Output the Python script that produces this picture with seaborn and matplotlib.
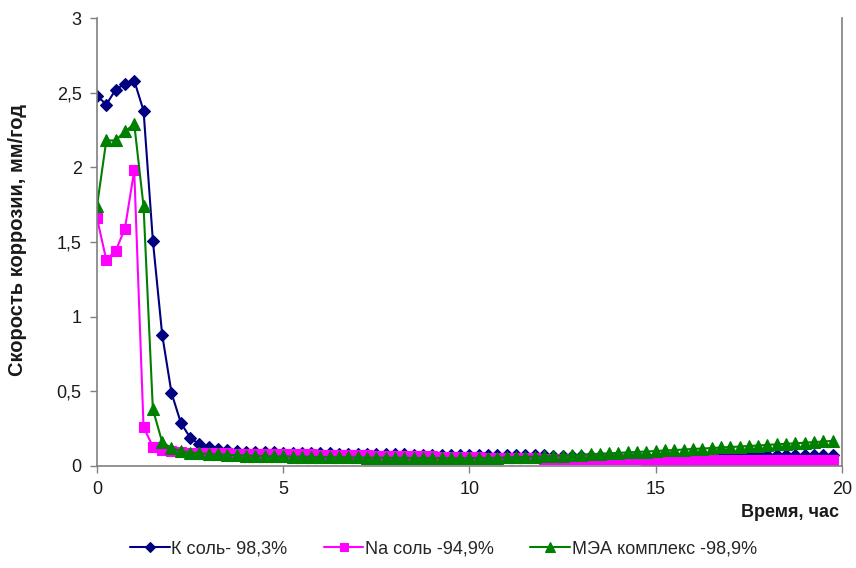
import numpy as np
import pandas as pd
import matplotlib
matplotlib.use("Agg")
import matplotlib.pyplot as plt
import seaborn as sns
from matplotlib.ticker import FuncFormatter, MultipleLocator

# Sampling grid: measurements every 15 minutes
time_h = np.arange(0, 20, 0.25)

k_salt = [2.48, 2.42, 2.52, 2.56, 2.58, 2.38, 1.51, 0.88, 0.49, 0.29,
          0.19, 0.145, 0.125, 0.112, 0.105, 0.100, 0.096, 0.094, 0.092, 0.091,
          0.090, 0.088, 0.087, 0.086, 0.085, 0.084, 0.083, 0.082, 0.081, 0.080,
          0.080, 0.079, 0.078, 0.077, 0.076, 0.076, 0.075, 0.074, 0.074, 0.073,
          0.073, 0.073, 0.072, 0.072, 0.072, 0.071, 0.071, 0.071, 0.071, 0.070,
          0.070, 0.070, 0.070, 0.070, 0.070, 0.070, 0.070, 0.070, 0.070, 0.070,
          0.070, 0.070, 0.071, 0.071, 0.071, 0.071, 0.071, 0.072, 0.072, 0.072,
          0.072, 0.072, 0.073, 0.073, 0.073, 0.073, 0.073, 0.074, 0.074, 0.074]

na_salt = [1.66, 1.38, 1.44, 1.59, 1.98, 0.26, 0.13, 0.11, 0.100, 0.095,
           0.090, 0.088, 0.086, 0.085, 0.084, 0.083, 0.082, 0.081, 0.080, 0.080,
           0.079, 0.078, 0.078, 0.077, 0.076, 0.075, 0.074, 0.073, 0.072, 0.071,
           0.070, 0.069, 0.068, 0.067, 0.066, 0.065, 0.064, 0.063, 0.062, 0.060,
           0.058, 0.057, 0.056, 0.055, 0.054, 0.053, 0.052, 0.051, 0.050, 0.050,
           0.049, 0.048, 0.047, 0.047, 0.046, 0.045, 0.045, 0.044, 0.044, 0.043,
           0.043, 0.042, 0.042, 0.042, 0.041, 0.041, 0.041, 0.040, 0.040, 0.040,
           0.040, 0.039, 0.039, 0.039, 0.039, 0.039, 0.038, 0.038, 0.038, 0.038]

mea_complex = [1.74, 2.18, 2.18, 2.24, 2.29, 1.74, 0.38, 0.16, 0.12, 0.10,
               0.090, 0.085, 0.080, 0.077, 0.075, 0.072, 0.070, 0.068, 0.066, 0.065,
               0.064, 0.063, 0.062, 0.061, 0.060, 0.059, 0.058, 0.058, 0.057, 0.056,
               0.056, 0.055, 0.055, 0.054, 0.054, 0.053, 0.053, 0.053, 0.052, 0.052,
               0.052, 0.053, 0.054, 0.055, 0.057, 0.059, 0.061, 0.063, 0.065, 0.068,
               0.070, 0.073, 0.076, 0.079, 0.082, 0.085, 0.088, 0.091, 0.094, 0.097,
               0.100, 0.104, 0.107, 0.110, 0.114, 0.117, 0.120, 0.124, 0.127, 0.130,
               0.134, 0.137, 0.141, 0.145, 0.149, 0.152, 0.156, 0.160, 0.164, 0.168]

series_names = ["К соль- 98,3%", "Na соль -94,9%", "МЭА комплекс -98,9%"]
series_values = [k_salt, na_salt, mea_complex]
colors = ["#000080", "#FF00FF", "#008000"]
markers = ["D", "s", "^"]
marker_sizes = [6.5, 7.5, 8.5]

df = pd.concat(
    [pd.DataFrame({"t": time_h, "v": vals, "series": name})
     for name, vals in zip(series_names, series_values)],
    ignore_index=True,
)

sns.set_theme(style="white")
plt.rcParams["font.family"] = ["Liberation Sans", "DejaVu Sans"]

fig = plt.figure(figsize=(8.56, 5.68), dpi=100)
ax = fig.add_axes([0.1133, 0.1796, 0.8703, 0.7887])

for name, col, mk, ms in zip(series_names, colors, markers, marker_sizes):
    sns.lineplot(data=df[df["series"] == name], x="t", y="v", ax=ax,
                 color=col, marker=mk, markersize=ms, markeredgecolor=col,
                 markeredgewidth=0.8, linewidth=1.5, label=name)

ax.set_xlim(0, 20)
ax.set_ylim(0, 3)
ax.xaxis.set_major_locator(MultipleLocator(5))
ax.yaxis.set_major_locator(MultipleLocator(0.5))
comma = FuncFormatter(lambda v, p: (f"{v:g}").replace(".", ","))
ax.yaxis.set_major_formatter(comma)
ax.xaxis.set_major_formatter(comma)

for side in ["left", "bottom", "right"]:
    ax.spines[side].set_visible(True)
    ax.spines[side].set_color("#808080")
    ax.spines[side].set_linewidth(1.2)
ax.spines["top"].set_visible(False)

ax.tick_params(axis="both", which="major", direction="out", length=5,
               width=1, color="#808080", labelsize=13, labelcolor="#1a1a1a",
               pad=6)
ax.tick_params(axis="x", bottom=True)
ax.tick_params(axis="y", left=True)

ax.set_xlabel("")
ax.set_ylabel("Скорость коррозии, мм/год", fontsize=14.5, fontweight="bold",
              color="#1a1a1a")
ax.yaxis.set_label_coords(-0.094, 0.505)
fig.text(0.923, 0.098, "Время, час", fontsize=13, fontweight="bold",
         ha="center", va="center", color="#1a1a1a")

ax.get_legend().remove()
handles, labels = ax.get_legend_handles_labels()
fig.legend(handles, labels, loc="center", bbox_to_anchor=(0.518, 0.034),
           ncol=3, frameon=False, fontsize=13, handlelength=2.2,
           handletextpad=0.1, columnspacing=2.0, markerscale=0.8)

fig.savefig("out.png", dpi=100)
